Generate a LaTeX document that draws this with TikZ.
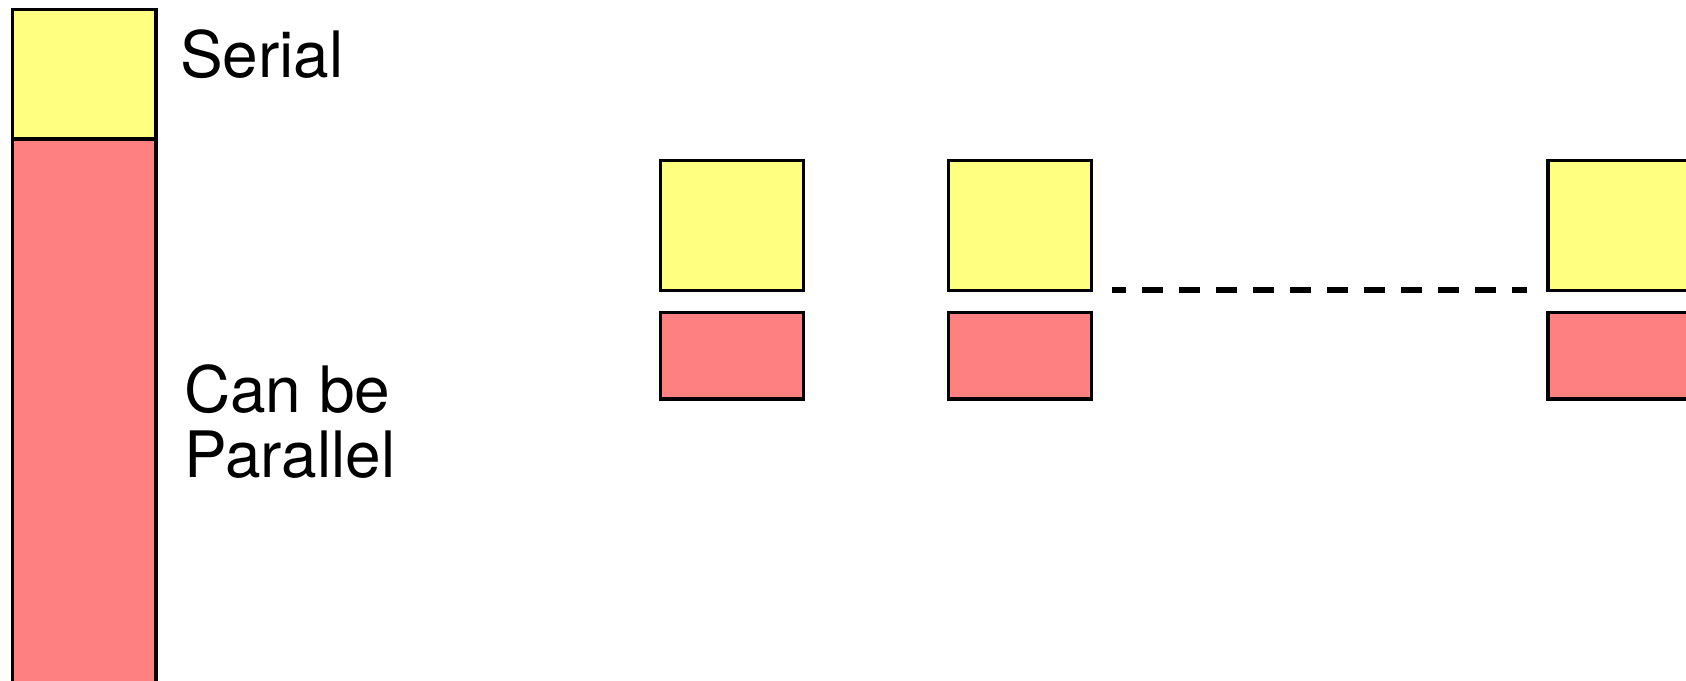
\documentclass[tikz,border=0pt]{standalone}
\usepackage{fontspec}
\setmainfont{TeX Gyre Heros}
\definecolor{serialfill}{HTML}{FFFF80}
\definecolor{parfill}{HTML}{FF8080}
\tikzset{
  block/.style={draw=black, line width=3.2pt, inner sep=0pt, outer sep=0pt,
                anchor=north west, minimum width=143pt},
  serialblock/.style={block, fill=serialfill},
  parblock/.style={block, fill=parfill},
  bigtext/.style={inner sep=0pt, anchor=base west,
                  font=\fontsize{64}{64}\selectfont},
  gapline/.style={line width=6pt, dash pattern=on 21pt off 16pt, dash phase=7pt}
}
\begin{document}
\begin{tikzpicture}[x=1pt,y=-1pt]
\useasboundingbox (0,0) rectangle (1686,680);
\clip (0,0) rectangle (1686,680);

% whole program as one column: serial part on top, parallelisable part below
\node[serialblock, minimum width=143.5pt, minimum height=129.3pt] (ys) at (12.5,9.7) {};
\node[parblock, minimum width=143.5pt, minimum height=600pt] (ps) at (12.5,139) {};
\node[bigtext] (tserial) at (180,77) {Serial};
\node[bigtext] (tcan) at (184,412) {Can be};
\node[bigtext] (tpar) at (184,477) {Parallel};

% the program split into per-processor pieces
\foreach \n/\x in {1/660.7, 2/948.7, 3/1548} {
  \node[serialblock, minimum height=129.6pt] (y\n) at (\x,160.7) {};
  \node[parblock, minimum height=86.3pt] (p\n) at (\x,312.7) {};
}

% more processors in between
\draw[gapline] ([xshift=20.5pt]y2.south east) -- ([xshift=-21pt]y3.south west);
\end{tikzpicture}
\end{document}
